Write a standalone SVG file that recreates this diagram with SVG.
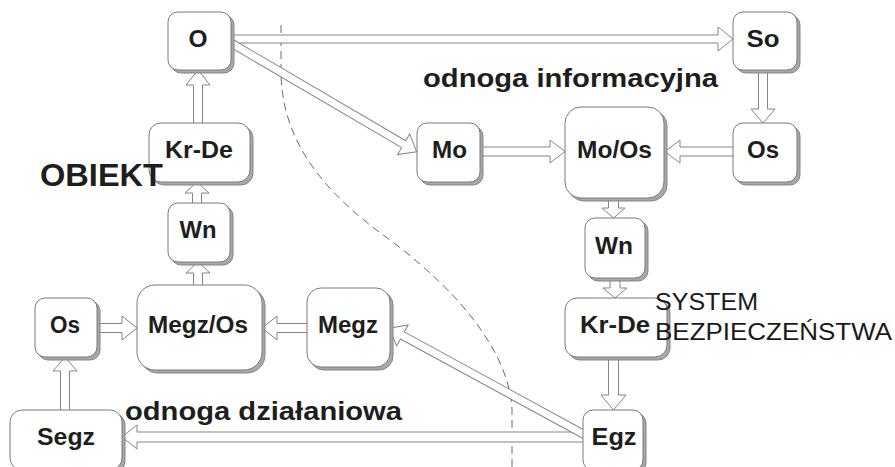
<svg xmlns="http://www.w3.org/2000/svg" width="895" height="467" viewBox="0 0 895 467">
  <style>
    .box { fill: #ffffff; stroke: #7a7a7a; stroke-width: 1; }
    .shadow { fill: #a8a8a8; stroke: #858585; stroke-width: 1; }
    .lbl { font-family: "Liberation Sans", Arial, sans-serif; font-weight: bold; font-size: 23px; fill: #1e1e1e; text-anchor: middle; }
    .big { font-family: "Liberation Sans", Arial, sans-serif; font-weight: bold; fill: #1e1e1e; }
    .sys { font-family: "Liberation Sans", Arial, sans-serif; font-weight: normal; font-size: 23px; fill: #1a1a1a; }
    .arr { fill: #ffffff; stroke: #858585; stroke-width: 1; stroke-linejoin: miter; }
    .zone { fill: none; stroke: #6a6a6a; stroke-width: 1; stroke-dasharray: 8 5; }
  </style>

  <rect width="895" height="467" fill="#ffffff"/>

  <!-- boundary between the object and the safety system -->
  <path class="zone" d="M281,25 V75 C283,140 320,190 390,240 C470,300 510,360 512,410 V467"/>

  <!-- hollow block arrows -->
  <g id="connectors">
    <!-- O -> So -->
    <polygon class="arr" points="225,35 718,35 718,27 733,39 718,51 718,43 225,43"/>
    <!-- O -> Mo -->
    <polygon class="arr" transform="translate(226,40) rotate(30.4)" points="0,-4 206,-4 206,-12 221,0 206,12 206,4 0,4"/>
    <!-- Mo -> Mo/Os -->
    <polygon class="arr" points="478,147 550,147 550,140 565,151.5 550,163 550,156 478,156"/>
    <!-- Os -> Mo/Os -->
    <polygon class="arr" points="735,147 680,147 680,140 665,151.5 680,163 680,156 735,156"/>
    <!-- So -> Os -->
    <polygon class="arr" points="758.5,68 758.5,109 751,109 763,123 775,109 767.5,109 767.5,68"/>
    <!-- Mo/Os -> Wn -->
    <polygon class="arr" points="608.5,196 608.5,208 602,208 613.5,218 625,208 618.5,208 618.5,196"/>
    <!-- Wn -> Kr-De -->
    <polygon class="arr" points="610,276 610,288 603,288 615,298 627,288 620,288 620,276"/>
    <!-- Kr-De -> Egz -->
    <polygon class="arr" points="608.5,355 608.5,395 601,395 613.5,410 626,395 618.5,395 618.5,355"/>
    <!-- Egz -> Segz -->
    <polygon class="arr" points="585,432 137,432 137,425 122,437 137,449 137,442 585,442"/>
    <!-- Egz -> Megz -->
    <polygon class="arr" transform="translate(585,435) rotate(208.6)" points="0,-4 208,-4 208,-12 223,0 208,12 208,4 0,4"/>
    <!-- Megz -> Megz/Os -->
    <polygon class="arr" points="309,323.5 277,323.5 277,316 262,328 277,340 277,332.5 309,332.5"/>
    <!-- Os -> Megz/Os -->
    <polygon class="arr" points="95,323.5 122,323.5 122,316 137,328 122,340 122,332.5 95,332.5"/>
    <!-- Segz -> Os -->
    <polygon class="arr" points="60.5,412 60.5,371 53,371 65,357 77,371 69.5,371 69.5,412"/>
    <!-- Megz/Os -> Wn -->
    <polygon class="arr" points="193.5,287 193.5,273 186,273 198,262 210,273 202.5,273 202.5,287"/>
    <!-- Wn -> Kr-De -->
    <polygon class="arr" points="192.5,205 192.5,193 185,193 197,182 209,193 201.5,193 201.5,205"/>
    <!-- Kr-De -> O -->
    <polygon class="arr" points="193.5,125 193.5,85 186,85 198,70 210,85 202.5,85 202.5,125"/>
  </g>

  <!-- object side -->
  <g id="n-o">
    <rect class="shadow" x="171" y="15" width="63" height="58" rx="10"/>
    <rect class="box" x="168" y="12" width="63" height="58" rx="10"/>
    <text class="lbl" x="198" y="47" textLength="19" lengthAdjust="spacingAndGlyphs">O</text>
  </g>
  <g id="n-krde-obj">
    <rect class="shadow" x="152" y="126" width="101" height="59" rx="12"/>
    <rect class="box" x="149" y="123" width="101" height="59" rx="12"/>
    <text class="lbl" x="199" y="158" textLength="68" lengthAdjust="spacingAndGlyphs">Kr-De</text>
  </g>
  <g id="n-wn-obj">
    <rect class="shadow" x="171" y="206" width="62" height="59" rx="10"/>
    <rect class="box" x="168" y="203" width="62" height="59" rx="10"/>
    <text class="lbl" x="198" y="238" textLength="37" lengthAdjust="spacingAndGlyphs">Wn</text>
  </g>
  <g id="n-megzos">
    <rect class="shadow" x="140" y="288" width="125" height="85" rx="18"/>
    <rect class="box" x="137" y="285" width="125" height="85" rx="18"/>
    <text class="lbl" x="198" y="333" textLength="100" lengthAdjust="spacingAndGlyphs">Megz/Os</text>
  </g>
  <g id="n-os-obj">
    <rect class="shadow" x="38" y="301" width="62" height="59" rx="10"/>
    <rect class="box" x="35" y="298" width="62" height="59" rx="10"/>
    <text class="lbl" x="65" y="333" textLength="30" lengthAdjust="spacingAndGlyphs">Os</text>
  </g>
  <g id="n-megz">
    <rect class="shadow" x="310" y="291" width="83" height="79" rx="14"/>
    <rect class="box" x="307" y="288" width="83" height="79" rx="14"/>
    <text class="lbl" x="348" y="333" textLength="60" lengthAdjust="spacingAndGlyphs">Megz</text>
  </g>
  <g id="n-segz">
    <rect class="shadow" x="13" y="413" width="112" height="60" rx="12"/>
    <rect class="box" x="10" y="410" width="112" height="60" rx="12"/>
    <text class="lbl" x="66" y="445" textLength="58" lengthAdjust="spacingAndGlyphs">Segz</text>
  </g>

  <!-- safety system side -->
  <g id="n-so">
    <rect class="shadow" x="736" y="15" width="64" height="58" rx="10"/>
    <rect class="box" x="733" y="12" width="64" height="58" rx="10"/>
    <text class="lbl" x="763" y="47" textLength="33" lengthAdjust="spacingAndGlyphs">So</text>
  </g>
  <g id="n-mo">
    <rect class="shadow" x="420" y="126" width="63" height="59" rx="10"/>
    <rect class="box" x="417" y="123" width="63" height="59" rx="10"/>
    <text class="lbl" x="449.5" y="158" textLength="35" lengthAdjust="spacingAndGlyphs">Mo</text>
  </g>
  <g id="n-moos">
    <rect class="shadow" x="568" y="110" width="99" height="91" rx="16"/>
    <rect class="box" x="565" y="107" width="99" height="91" rx="16"/>
    <text class="lbl" x="614.5" y="158" textLength="75" lengthAdjust="spacingAndGlyphs">Mo/Os</text>
  </g>
  <g id="n-os-sys">
    <rect class="shadow" x="736" y="126" width="64" height="59" rx="10"/>
    <rect class="box" x="733" y="123" width="64" height="59" rx="10"/>
    <text class="lbl" x="763" y="158" textLength="32" lengthAdjust="spacingAndGlyphs">Os</text>
  </g>
  <g id="n-wn-sys">
    <rect class="shadow" x="588" y="221" width="60" height="60" rx="10"/>
    <rect class="box" x="585" y="218" width="60" height="60" rx="10"/>
    <text class="lbl" x="614" y="254" textLength="38" lengthAdjust="spacingAndGlyphs">Wn</text>
  </g>
  <g id="n-krde-sys">
    <rect class="shadow" x="568" y="301" width="102" height="59" rx="12"/>
    <rect class="box" x="565" y="298" width="102" height="59" rx="12"/>
    <text class="lbl" x="615" y="333" textLength="70" lengthAdjust="spacingAndGlyphs">Kr-De</text>
  </g>
  <g id="n-egz">
    <rect class="shadow" x="586" y="413" width="60" height="60" rx="10"/>
    <rect class="box" x="583" y="410" width="60" height="60" rx="10"/>
    <text class="lbl" x="614" y="445" textLength="45" lengthAdjust="spacingAndGlyphs">Egz</text>
  </g>

  <!-- area captions -->
  <g id="captions">
    <text class="big" x="423" y="87" font-size="26" textLength="295" lengthAdjust="spacingAndGlyphs">odnoga informacyjna</text>
    <text class="big" x="125" y="420" font-size="26" textLength="277" lengthAdjust="spacingAndGlyphs">odnoga działaniowa</text>
    <text class="big" x="40" y="186" font-size="31" textLength="123" lengthAdjust="spacingAndGlyphs">OBIEKT</text>
    <text class="sys" x="655" y="310" textLength="103" lengthAdjust="spacingAndGlyphs">SYSTEM</text>
    <text class="sys" x="655" y="340" textLength="237" lengthAdjust="spacingAndGlyphs">BEZPIECZEŃSTWA</text>
  </g>
</svg>
